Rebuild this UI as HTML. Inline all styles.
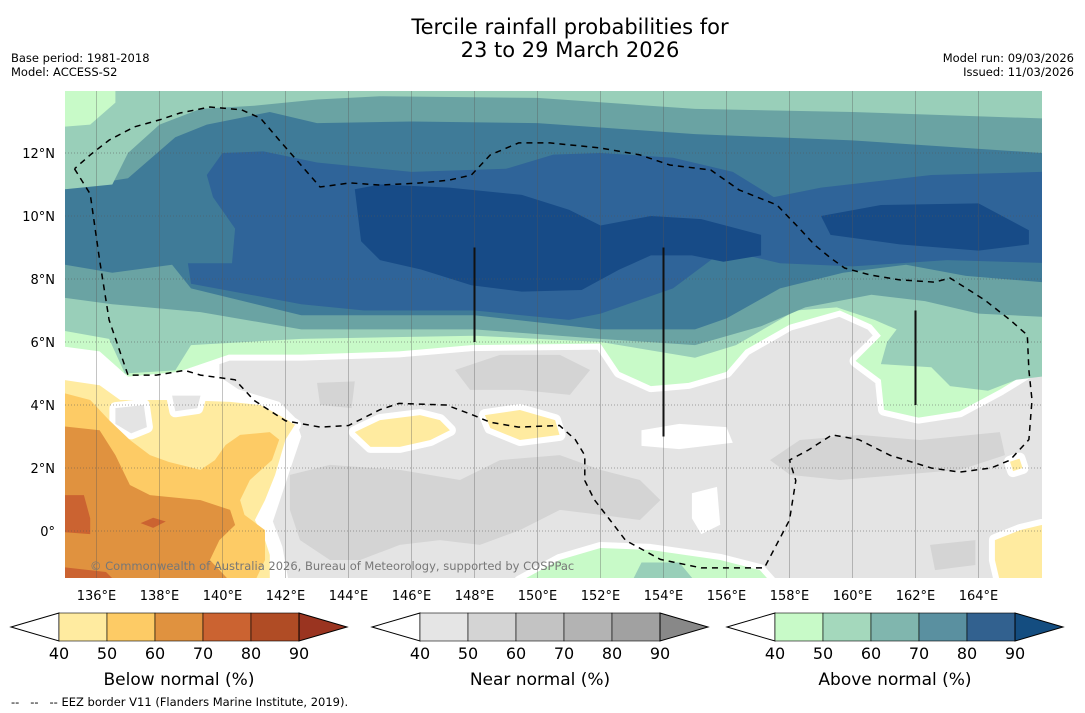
<!DOCTYPE html>
<html><head><meta charset="utf-8">
<style>
html,body{margin:0;padding:0;background:#fff;}
svg{display:block;font-family:"DejaVu Sans","Liberation Sans",sans-serif;}
</style></head>
<body>
<svg id="chart" width="1085" height="713" viewBox="0 0 1085 713" xmlns="http://www.w3.org/2000/svg">
<defs><clipPath id="mapclip"><rect x="65" y="91" width="977" height="487"/></clipPath></defs>
<text x="570" y="34" text-anchor="middle" font-size="21" fill="#000">Tercile rainfall probabilities for</text>
<text x="570" y="57" text-anchor="middle" font-size="21" fill="#000">23 to 29 March 2026</text>
<text x="11" y="62" font-size="11.5">Base period: 1981-2018</text>
<text x="11" y="76" font-size="11.5">Model: ACCESS-S2</text>
<text x="1074" y="62" font-size="11.5" text-anchor="end">Model run: 09/03/2026</text>
<text x="1074" y="76" font-size="11.5" text-anchor="end">Issued: 11/03/2026</text>
<g id="map" clip-path="url(#mapclip)"></g>
<g id="overlay"></g>
<g id="bars"></g>
<text x="11" y="706" font-size="11.5" xml:space="preserve">--   --   -- EEZ border V11 (Flanders Marine Institute, 2019).</text>
</svg>
<script>
// ---- data ----
const lonTicks = [136,138,140,142,144,146,148,150,152,154,156,158,160,162,164];
const latTicks = [0,2,4,6,8,10,12];
const barTicks = [40,50,60,70,80,90];
const belowColors = ["#ffeba0","#fdcb65","#e0923f","#cb6331","#b04c25","#9a3420"];
const nearColors = ["#e5e5e5","#d4d4d4","#c3c3c3","#b3b3b3","#a1a1a1","#888888"];
const aboveColors = ["#c8fac8","#a4d8bc","#80b6ae","#5a90a0","#32618f","#144d80"];
const barTitles = ["Below normal (%)","Near normal (%)","Above normal (%)"];

const aboveL1 = [[135,5.85],[136.1,5.7],[137,4.9],[138.6,5.05],[140.2,5.6],[142.5,5.6],[145.6,5.7],[147.9,5.9],[152,5.95],[152.6,5.05],[153.6,4.6],[154.8,4.7],[156,5.05],[156.6,5.75],[158,6.55],[159.6,7.0],[160.6,6.55],[160.9,6.2],[160.1,5.4],[160.9,4.8],[161,3.85],[162.1,3.6],[163.4,3.8],[164.7,4.5],[166,5.3],[166.5,5.3],[166.5,14.5],[134.5,14.5],[134.5,5.85]];
const aboveL2 = [[135,6.35],[136.4,6.1],[136.9,5.0],[138.5,5.1],[139,5.9],[142.5,6.1],[148,6.2],[152,6.0],[155,5.5],[156.3,5.9],[158.2,7.0],[159.5,7.1],[160.7,6.7],[161.4,6.4],[161.1,6.0],[160.9,5.3],[162.5,5.2],[163.1,4.6],[164.3,4.45],[165.2,4.8],[166,4.9],[166.5,4.9],[166.5,14.5],[134.5,14.5],[134.5,6.35]];
const aboveL3 = [[135,7.4],[136.5,7.2],[139.3,6.95],[142.5,6.4],[148,6.4],[152,6.1],[155,5.9],[157.1,6.5],[158.5,7.1],[160.6,7.5],[162.3,7.3],[164,6.9],[166,6.8],[166.5,6.8],[166.5,14.5],[134.5,14.5],[134.5,7.4]];
const aboveL4 = [[135,8.45],[136.5,8.2],[138.4,8.45],[139,7.7],[142.5,6.85],[148,6.85],[152,6.4],[155,6.4],[156,6.75],[157.7,7.7],[159.7,8.2],[161.7,8.45],[163.6,8.1],[166,7.9],[166.5,7.9],[166.5,14.5],[134.5,14.5],[134.5,8.45]];
const aboveL5 = [[140.3,8.5],[140.4,9.6],[139.7,10.6],[139.5,11.3],[140,12.0],[141.3,12.05],[143,11.7],[146,11.4],[149,11.5],[150.5,11.95],[152,12.0],[154.3,11.85],[156.2,11.4],[157.5,10.6],[159,10.9],[162.5,11.3],[166,11.4],[166.5,11.4],[166.5,8.5],[163,8.6],[160,8.4],[157.7,8.5],[156,8.9],[155.5,8.6],[154.3,7.7],[152,6.9],[151,6.7],[148,7.0],[144.5,7.0],[142.5,7.2],[139,7.85],[138.9,8.5]];
const aboveL6a = [[144.2,10.85],[145,11.0],[147.2,10.9],[149.5,10.67],[151,10.2],[152,9.7],[153.6,10.0],[155.2,9.9],[157.1,9.4],[157.1,8.75],[155.9,8.55],[154.9,8.75],[153.6,8.75],[152.6,8.3],[151.4,7.65],[149.5,7.6],[147.9,7.8],[146.3,8.3],[145,8.6],[144.4,9.2]];
const aboveL6b = [[159,10.0],[160.9,10.35],[164,10.4],[165.6,9.55],[165.6,9.1],[164,8.9],[161.5,9.1],[159.3,9.4]];
const topTeal = [[134.5,10.8],[137,11.2],[138.5,12.5],[139.5,12.9],[141.5,13.3],[143,12.95],[146,13.0],[150,12.95],[155,12.6],[160,12.4],[166,12.0],[166.5,12.0],[166.5,14.5],[134.5,14.5]];
const topMint = [[134.5,10.8],[136.5,11.0],[137,12.0],[138,12.9],[139.3,13.4],[141,13.5],[143,13.7],[145,13.8],[150,13.75],[155,13.4],[160,13.3],[166,13.1],[166.5,13.1],[166.5,14.5],[134.5,14.5]];
const topGreen = [[134.5,12.8],[135.8,12.9],[136.6,13.6],[136.6,14.5],[134.5,14.5]];
const greenSouth = [[149.44,-1.6],[150.7,-0.92],[152,-0.54],[153.57,-0.6],[155.8,-0.92],[157.06,-1.24],[157.38,-1.6]];
const mintSouth = [[153,-1.6],[153.3,-1.0],[154.5,-1.0],[155,-1.6]];

const whiteWest = [[134.5,5.9],[139.9,5.7],[139.9,4.9],[140.5,4.5],[141.8,4.1],[142.3,3.6],[142.5,3.0],[142.1,1.8],[141.8,0.9],[141.6,0.3],[141.9,-0.5],[142.1,-1.6],[134.5,-1.6]];
const belowL1 = [[134.5,4.86],[136.1,4.63],[136.75,4.16],[138.65,4.16],[140.24,4.1],[141.2,4.0],[141.8,3.68],[142.3,3.37],[142,2.9],[141.67,1.78],[141.35,0.98],[141.03,0.35],[141.35,-0.29],[141.5,-0.76],[141.5,-1.6],[134.5,-1.6]];
const belowL2 = [[134.5,4.5],[135.8,4.16],[136.4,3.52],[137.06,2.89],[137.7,2.41],[138.3,2.19],[139.3,1.94],[139.76,2.25],[140.1,2.73],[140.56,3.05],[141.5,3.14],[141.8,2.9],[141.57,2.25],[140.87,1.62],[140.56,0.98],[140.7,0.51],[141.35,0.03],[141.35,-0.92],[141.03,-1.6],[134.5,-1.6]];
const belowL3 = [[134.5,3.37],[136.1,3.2],[136.6,2.41],[137.06,1.46],[137.7,1.14],[139.3,0.98],[140.24,0.67],[140.4,0.19],[139.9,-0.29],[139.6,-0.92],[140.24,-1.6],[134.5,-1.6]];
const belowL4a = [[134.5,1.14],[135.6,1.14],[135.8,0.4],[135.8,-0.1],[134.5,0.0]];
const belowL4b = [[137.4,0.25],[137.8,0.42],[138.2,0.3],[137.8,0.1]];
const belowL4c = [[134.5,-1.1],[136.3,-1.3],[136.6,-1.6],[134.5,-1.6]];
const holeA = [[136.6,3.9],[137.5,4.0],[137.6,3.3],[137.1,3.1],[136.6,3.4]];
const holeB = [[138.4,4.3],[139.3,4.3],[139.2,3.9],[138.5,3.8]];
const belowB = [[144.2,3.14],[145,3.52],[146.27,3.68],[146.9,3.52],[147.22,3.2],[146.6,2.89],[145.63,2.67],[144.7,2.67]];
const belowC = [[148.33,3.68],[149.44,3.84],[150.56,3.52],[150.7,3.05],[149.44,2.89],[148.5,3.27]];
const belowD = [[164.52,-0.29],[165.32,0.03],[166,0.19],[166.5,0.19],[166.5,-1.6],[164.68,-1.6],[164.52,-0.92]];
const belowE = [[165.0,2.2],[165.3,2.3],[165.4,2.0],[165.1,1.9]];

const nearA = [[142.14,1.78],[143.41,2.1],[145.63,1.94],[147.54,1.62],[148.81,2.25],[150.71,2.41],[152,1.94],[153.25,1.62],[153.9,0.98],[153.25,0.35],[152,0.51],[150.71,0.67],[149.44,0.03],[148.17,-0.44],[146.9,-0.29],[145.63,-0.44],[144.37,-0.92],[143.41,-0.92],[142.46,-0.29],[142.14,0.67]];
const nearB = [[147.38,5.11],[148.81,5.59],[150.71,5.59],[151.67,5.11],[151.03,4.32],[149.44,4.48],[147.86,4.48]];
const nearC = [[157.38,2.25],[158.33,2.89],[160.24,3.05],[162.14,2.89],[164.68,3.14],[164.84,2.41],[163.41,1.94],[161.5,1.78],[159.6,1.62],[158.02,1.78]];
const nearD = [[162.46,-0.44],[163.9,-0.29],[163.9,-1.08],[162.62,-1.24]];
const nearE = [[143.0,4.7],[144.2,4.75],[144.1,3.9],[143.1,4.0]];
const whiteA = [[153.3,3.2],[154.5,3.4],[156,3.3],[156.2,2.8],[154.5,2.6],[153.3,2.7]];
const whiteB = [[154.9,1.2],[155.7,1.4],[155.8,0.2],[155.2,-0.1],[154.9,0.4]];

const eez = [[135.3,11.5],[135.8,10.7],[136.1,8.6],[136.4,6.7],[137,4.95],[137.9,4.95],[138.8,5.1],[139.3,4.95],[140.4,4.8],[141,4.15],[142,3.5],[143.1,3.3],[144,3.35],[145,3.85],[145.6,4.05],[147.1,4.0],[147.9,3.7],[148.5,3.45],[149.4,3.3],[150.7,3.35],[151.2,2.9],[151.5,2.4],[151.5,1.6],[151.8,1.0],[152.3,0.35],[152.8,-0.3],[153.9,-0.9],[155.2,-1.17],[157.2,-1.17],[157.5,-0.6],[158,0.35],[158.2,1.6],[158,2.25],[158.6,2.57],[159.35,3.05],[160.2,2.9],[161.2,2.4],[162.5,2.0],[163.4,1.87],[164.4,2.0],[165,2.25],[165.6,2.9],[165.7,4.16],[165.6,5.1],[165.55,6.22],[165,6.7],[164.2,7.33],[163.7,7.65],[163.1,8.03],[162.6,7.9],[161.5,7.97],[160.55,8.13],[159.75,8.35],[159.3,8.67],[158.8,9.08],[158.3,9.62],[157.6,10.35],[156.4,10.83],[155.5,11.46],[154.2,11.62],[153.25,11.94],[152,12.16],[150.4,12.32],[149.4,12.32],[148.5,11.94],[147.9,11.3],[147.2,11.14],[146.3,11.05],[145,10.98],[144.05,11.05],[143.1,10.92],[141.8,12.41],[141.2,13.11],[140.6,13.37],[139.6,13.46],[138.65,13.27],[138,13.05],[137.2,12.83],[136.4,12.41],[135.8,11.94],[135.3,11.5]];
const meridianBars = [[148,9,6],[154,9,3],[162,7,4]];

// ---- axes ----
const X = lon => 65 + (lon - 135) * 31.5;
const Y = lat => 531 - lat * 31.5;
const NS = "http://www.w3.org/2000/svg";
const map = document.getElementById('map');
const ov = document.getElementById('overlay');
const bars = document.getElementById('bars');
function mk(tag, attrs, parent){const e=document.createElementNS(NS,tag);for(const k in attrs)e.setAttribute(k,attrs[k]);parent.appendChild(e);return e;}
function pts(c){return c.map(p=>X(p[0]).toFixed(1)+','+Y(p[1]).toFixed(1)).join(' ');}
function poly(c, fill, name, white){
  const e = mk('polygon',{points:pts(c),fill:fill},map);
  if(white){e.setAttribute('stroke','#fff');e.setAttribute('stroke-width','12');e.setAttribute('stroke-linejoin','round');e.setAttribute('paint-order','stroke');}
  
  
  return e;
}
const bg = mk('rect',{x:65,y:91,width:977,height:487,fill:'#e4e4e4'},map);


poly(nearA,'#d4d4d4','near-normal-50-region');
poly(nearB,'#d4d4d4','near-normal-50-region');
poly(nearC,'#d4d4d4','near-normal-50-region');
poly(nearD,'#d4d4d4','near-normal-50-region');
poly(nearE,'#d4d4d4','near-normal-50-region');
poly(whiteA,'#ffffff','no-signal-region');
poly(whiteB,'#ffffff','no-signal-region');
poly(greenSouth,aboveColors[0],'above-normal-40-south',true);
poly(mintSouth,'#99cfb9','above-normal-50-south');
poly(whiteWest,'#ffffff','no-signal-west');
poly(belowL1,belowColors[0],'below-normal-40',true);
poly(holeA,'#e4e4e4','near-normal-hole',true);
poly(holeB,'#e4e4e4','near-normal-hole',true);
poly(belowL2,belowColors[1],'below-normal-50');
poly(belowL3,belowColors[2],'below-normal-60');
poly(belowL4a,belowColors[3],'below-normal-70');
poly(belowL4b,belowColors[3],'below-normal-70');
poly(belowL4c,belowColors[3],'below-normal-70');
poly(belowB,belowColors[0],'below-normal-40',true);
poly(belowC,belowColors[0],'below-normal-40',true);
poly(belowD,belowColors[0],'below-normal-40',true);
poly(belowE,belowColors[0],'below-normal-40',true);
poly(aboveL1,aboveColors[0],'above-normal-40',true);
poly(aboveL2,'#99cfb9','above-normal-50');
poly(aboveL3,'#6aa3a3','above-normal-60');
poly(aboveL4,'#3f7b98','above-normal-70');
poly(topTeal,'#6aa3a3','above-normal-60-north');
poly(topMint,'#99cfb9','above-normal-50-north');
poly(topGreen,aboveColors[0],'above-normal-40-north');
poly(aboveL5,'#2f6499','above-normal-80');
poly(aboveL6a,'#174b87','above-normal-90');
poly(aboveL6b,'#174b87','above-normal-90');

// grid
lonTicks.forEach(l=>{
  const g = mk('line',{x1:X(l),x2:X(l),y1:91,y2:578,stroke:'#555','stroke-opacity':0.35,'stroke-width':1},map);
  
  
  const t = mk('text',{x:X(l),y:600,'font-size':13,'text-anchor':'middle'},ov);
  t.textContent = l + '°E';
  
  
});
latTicks.forEach(l=>{
  const g = mk('line',{x1:65,x2:1042,y1:Y(l),y2:Y(l),stroke:'#555','stroke-opacity':0.5,'stroke-width':1,'stroke-dasharray':'1,2'},map);
  
  
  const t = mk('text',{x:55,y:Y(l)+5,'font-size':13,'text-anchor':'end'},ov);
  t.textContent = l === 0 ? '0°' : l + '°N';
  
  
});
meridianBars.forEach(b=>{
  const m = mk('line',{x1:X(b[0]),x2:X(b[0]),y1:Y(b[1]),y2:Y(b[2]),stroke:'#111','stroke-width':2},map);
  
  
});
const ez = mk('polyline',{points:pts(eez),fill:'none',stroke:'#000','stroke-width':1.5,'stroke-dasharray':'6,5'},map);


const cp = mk('text',{x:90,y:570,'font-size':11.5,fill:'#777'},map);
cp.textContent = '© Commonwealth of Australia 2026, Bureau of Meteorology, supported by COSPPac';



// colorbars
const barX = [59,420,775];
const palettes = [belowColors, nearColors, aboveColors];
const segW = 48, by = 613, bh = 28;
barX.forEach((x0,i)=>{
  const pal = palettes[i];
  const g = mk('g',{},bars);
  
  
  mk('polygon',{points:`${x0},${by} ${x0-segW},${by+bh/2} ${x0},${by+bh}`,fill:'#fff',stroke:'#000','stroke-width':1},g);
  for(let k=0;k<5;k++){
    const r = mk('rect',{x:x0+k*segW,y:by,width:segW,height:bh,fill:pal[k],stroke:'#000','stroke-width':0.6},g);
    
    
  }
  const xe = x0 + 5*segW;
  mk('polygon',{points:`${xe},${by} ${xe+segW},${by+bh/2} ${xe},${by+bh}`,fill:pal[5],stroke:'#000','stroke-width':1},g);
  barTicks.forEach((v,k)=>{
    const t = mk('text',{x:x0+k*segW,y:659,'font-size':16,'text-anchor':'middle'},g);
    t.textContent = v;
    
    
  });
  const tt = mk('text',{x:x0+2.5*segW,y:685,'font-size':17,'text-anchor':'middle'},g);
  tt.textContent = barTitles[i];
  
  
});
</script>
</body></html>
